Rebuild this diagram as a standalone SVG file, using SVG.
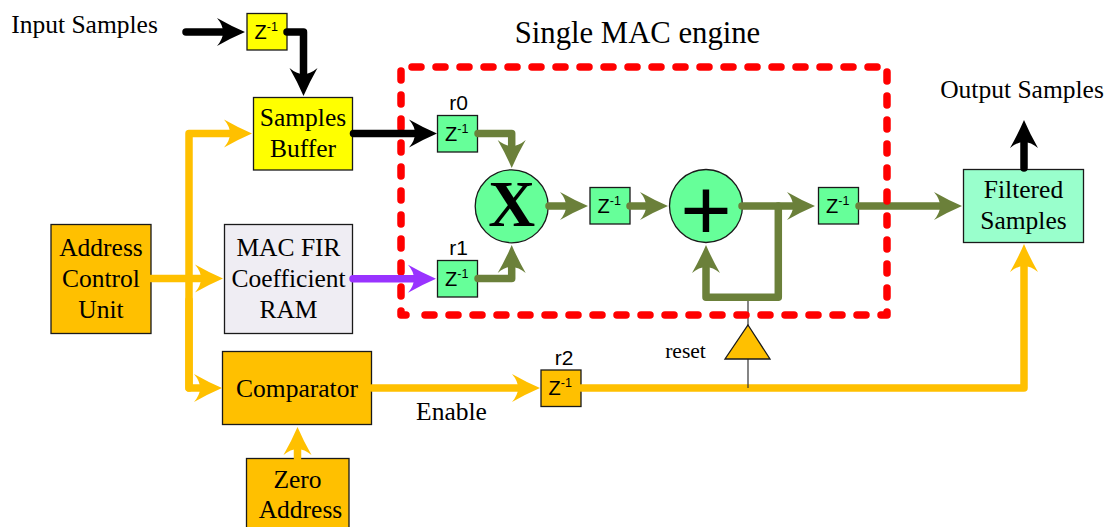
<svg xmlns="http://www.w3.org/2000/svg" width="1114" height="527" viewBox="0 0 1114 527">
<style>
.w{fill:none;stroke-linecap:round;stroke-linejoin:round;stroke-width:7.500}
.k{stroke:#000}.o{stroke:#FFC000}.g{stroke:#6B803A}.p{stroke:#9933FF}
.b{stroke:#1a1a1a;stroke-width:1.300}
.t{font-family:"Liberation Serif","Times New Roman",serif;font-size:25.500px;fill:#000;text-anchor:middle}
.s{font-family:"Liberation Sans",Arial,sans-serif;font-size:21px;fill:#000;text-anchor:middle}
.z{font-family:"Liberation Sans",Arial,sans-serif;font-size:20px;fill:#000}
.z tspan{font-size:12.500px}
</style>
<defs>
<path id="h" d="M27 14Q13 8 -1 0Q5 7 5 14Q5 21 -1 28Q13 20 27 14Z"/>
<marker id="mk" markerUnits="userSpaceOnUse" markerWidth="30" markerHeight="30" viewBox="-2 -1 30 30" refX="10" refY="14" orient="auto"><use href="#h" fill="#000"/></marker>
<marker id="mo" markerUnits="userSpaceOnUse" markerWidth="30" markerHeight="30" viewBox="-2 -1 30 30" refX="10" refY="14" orient="auto"><use href="#h" fill="#FFC000"/></marker>
<marker id="mg" markerUnits="userSpaceOnUse" markerWidth="30" markerHeight="30" viewBox="-2 -1 30 30" refX="10" refY="14" orient="auto"><use href="#h" fill="#6B803A"/></marker>
<marker id="mp" markerUnits="userSpaceOnUse" markerWidth="30" markerHeight="30" viewBox="-2 -1 30 30" refX="10" refY="14" orient="auto"><use href="#h" fill="#9933FF"/></marker>
</defs>
<g id="labels">
<text class="t" x="84.500" y="33">Input Samples</text>
<text class="t" x="637.500" y="43" style="font-size:30.700px">Single MAC engine</text>
<text class="t" x="1022" y="98">Output Samples</text>
<text class="t" x="451.500" y="420">Enable</text>
<text class="t" x="685.500" y="358" style="font-size:21.500px">reset</text>
</g>
<g id="address-control-unit">
<rect class="b" x="51" y="224.500" width="100" height="109" fill="#FFC000"/>
<text class="t"><tspan x="101" y="256">Address</tspan><tspan x="101" y="287">Control</tspan><tspan x="101" y="318">Unit</tspan></text>
</g>
<g id="samples-buffer">
<rect class="b" x="253.500" y="97.500" width="99" height="72.500" fill="#FFFF00"/>
<text class="t"><tspan x="303" y="126">Samples</tspan><tspan x="303" y="157">Buffer</tspan></text>
</g>
<g id="coefficient-ram">
<rect class="b" x="224.500" y="224.500" width="128" height="109" fill="#EFEDF3"/>
<text class="t"><tspan x="288.500" y="256">MAC FIR</tspan><tspan x="288.500" y="287">Coefficient</tspan><tspan x="288.500" y="318">RAM</tspan></text>
</g>
<g id="comparator">
<rect class="b" x="222.500" y="351.500" width="149" height="73" fill="#FFC000"/>
<text class="t" x="297" y="397">Comparator</text>
</g>
<g id="zero-address">
<rect class="b" x="246.500" y="458.500" width="102.500" height="80" fill="#FFC000"/>
<text class="t"><tspan x="297.500" y="488">Zero</tspan><tspan x="300.500" y="518">Address</tspan></text>
</g>
<g id="filtered-samples">
<rect class="b" x="963.500" y="169.500" width="120" height="73" fill="#99FFCC"/>
<text class="t"><tspan x="1023.500" y="198">Filtered</tspan><tspan x="1023.500" y="229">Samples</tspan></text>
</g>
<g id="z-input">
<rect class="b" x="247" y="13.500" width="40" height="36.500" fill="#FFFF00"/>
<text class="z" x="254.500" y="38.500">Z<tspan dy="-8">-1</tspan></text>
</g>
<g id="z-r0">
<rect class="b" x="437.500" y="115.500" width="40" height="36.500" fill="#66FF99"/>
<text class="z" x="445" y="140.500">Z<tspan dy="-8">-1</tspan></text>
<text class="s" x="458.500" y="110">r0</text>
</g>
<g id="z-r1">
<rect class="b" x="437.500" y="260.500" width="40" height="36.500" fill="#66FF99"/>
<text class="z" x="445" y="285.500">Z<tspan dy="-8">-1</tspan></text>
<text class="s" x="458.500" y="255">r1</text>
</g>
<g id="z-mid">
<rect class="b" x="590" y="187.500" width="40" height="36.500" fill="#66FF99"/>
<text class="z" x="597.500" y="212.500">Z<tspan dy="-8">-1</tspan></text>
</g>
<g id="z-out">
<rect class="b" x="818.500" y="187.500" width="40" height="36.500" fill="#66FF99"/>
<text class="z" x="826" y="212.500">Z<tspan dy="-8">-1</tspan></text>
</g>
<g id="z-r2">
<rect class="b" x="541" y="370" width="40" height="36.500" fill="#FFC000"/>
<text class="z" x="548.500" y="395">Z<tspan dy="-8">-1</tspan></text>
<text class="s" x="564" y="365">r2</text>
</g>
<g id="multiplier">
<circle class="b" cx="511.700" cy="206.300" r="36.500" fill="#66FF99"/>
<text x="511.700" y="226" text-anchor="middle" style="font-family:'Liberation Serif',serif;font-weight:bold;font-size:65px">X</text>
</g>
<g id="adder">
<circle class="b" cx="706" cy="206" r="36.500" fill="#66FF99"/>
<text x="706" y="241" text-anchor="middle" style="font-family:'Liberation Serif',serif;font-weight:bold;font-size:92px">+</text>
</g>
<g id="connectors">
<path class="w o" d="M151 278.500H206" marker-end="url(#mo)"/>
<path class="w o" d="M189 388V133.500H235" marker-end="url(#mo)"/>
<path class="w o" d="M189 300V388H205" marker-end="url(#mo)"/>
<path class="w o" d="M297.500 458V444" marker-end="url(#mo)"/>
<path class="w o" d="M372 388H523" marker-end="url(#mo)"/>
<path class="w o" d="M581 388H1024V261" marker-end="url(#mo)"/>
<path d="M748 297V388" fill="none" stroke="#333" stroke-width="1.200"/>
<path class="w k" d="M186 32H228" marker-end="url(#mk)"/>
<path class="w k" d="M287 32H303.500V79" marker-end="url(#mk)"/>
<path class="w g" d="M478 133.500H511.700V151" marker-end="url(#mg)"/>
<path class="w g" d="M478 278.500H511.700V262" marker-end="url(#mg)"/>
<path class="w g" d="M549 206H571" marker-end="url(#mg)"/>
<path class="w g" d="M630 206H651" marker-end="url(#mg)"/>
<path class="w g" d="M742 206H798" marker-end="url(#mg)"/>
<path class="w g" d="M778.300 206V297.300H706V262" marker-end="url(#mg)"/>
<path class="w g" d="M859 206H945" marker-end="url(#mg)"/>
<path class="w k" d="M1024 168V137" marker-end="url(#mk)"/>
</g>
<path id="mac-engine" d="M425 315H887V67H401V315H417" fill="none" stroke="#FF0000" stroke-width="7.500" stroke-linecap="round" stroke-linejoin="round" stroke-dasharray="9 15"/>
<g id="connectors-over">
<path class="w k" d="M353.500 133.500H420" marker-end="url(#mk)"/>
<path class="w p" d="M353 278.700H419" marker-end="url(#mp)"/>
</g>
<g id="reset-buffer">
<path class="b" d="M748 325L770 359H725Z" fill="#FFC000"/>
</g>
</svg>
